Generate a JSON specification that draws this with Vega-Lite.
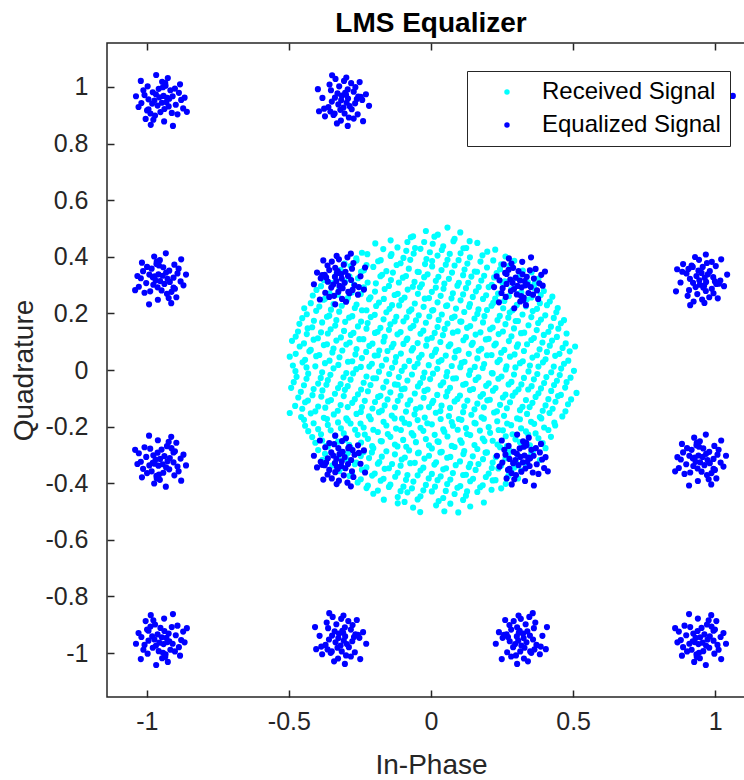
{
"$schema": "https://vega.github.io/schema/vega-lite/v6.json",
"width": 648, "height": 654,
"autosize": "none",
"padding": {"left": 107, "top": 43, "right": 0, "bottom": 83},
"background": "white",
"config": {"view": {"stroke": "#262626", "strokeWidth": 1.5}, "font": "Liberation Sans"},
"title": {"text": "LMS Equalizer", "fontSize": 28, "font": "Liberation Sans", "fontWeight": "bold", "color": "#000000", "offset": 4, "anchor": "middle"},
"datasets": {
"received": [
{"x":-0.063,"y":0.472},{"x":-0.018,"y":0.491},{"x":0.024,"y":0.478},{"x":0.058,"y":0.503},{"x":0.103,"y":0.486},
{"x":-0.196,"y":0.447},{"x":-0.118,"y":0.433},{"x":-0.083,"y":0.452},{"x":-0.037,"y":0.428},{"x":0.006,"y":0.446},{"x":0.043,"y":0.437},{"x":0.079,"y":0.455},{"x":0.124,"y":0.431},{"x":0.163,"y":0.449},
{"x":-0.263,"y":0.394},{"x":-0.224,"y":0.409},{"x":-0.177,"y":0.388},{"x":-0.142,"y":0.403},{"x":-0.097,"y":0.396},{"x":-0.061,"y":0.411},{"x":-0.016,"y":0.392},{"x":0.023,"y":0.404},{"x":0.058,"y":0.389},{"x":0.104,"y":0.412},{"x":0.137,"y":0.398},{"x":0.181,"y":0.405},{"x":0.219,"y":0.387},{"x":0.262,"y":0.401},
{"x":-0.318,"y":0.354},{"x":-0.283,"y":0.367},{"x":-0.236,"y":0.352},{"x":-0.203,"y":0.364},{"x":-0.157,"y":0.349},{"x":-0.121,"y":0.371},{"x":-0.078,"y":0.358},{"x":-0.043,"y":0.346},{"x":0.004,"y":0.366},{"x":0.037,"y":0.353},{"x":0.083,"y":0.369},{"x":0.118,"y":0.355},{"x":0.162,"y":0.347},{"x":0.197,"y":0.362},{"x":0.243,"y":0.356},{"x":0.276,"y":0.368},{"x":0.323,"y":0.351},
{"x":-0.377,"y":0.317},{"x":-0.338,"y":0.329},{"x":-0.302,"y":0.312},{"x":-0.257,"y":0.324},{"x":-0.223,"y":0.309},{"x":-0.178,"y":0.331},{"x":-0.141,"y":0.318},{"x":-0.099,"y":0.326},{"x":-0.058,"y":0.311},{"x":-0.024,"y":0.328},{"x":0.017,"y":0.315},{"x":0.063,"y":0.322},{"x":0.098,"y":0.308},{"x":0.142,"y":0.33},{"x":0.177,"y":0.316},{"x":0.222,"y":0.327},{"x":0.259,"y":0.313},{"x":0.303,"y":0.325},{"x":0.341,"y":0.31},{"x":0.378,"y":0.323},
{"x":-0.403,"y":0.283},{"x":-0.357,"y":0.271},{"x":-0.322,"y":0.288},{"x":-0.279,"y":0.274},{"x":-0.238,"y":0.291},{"x":-0.197,"y":0.277},{"x":-0.163,"y":0.286},{"x":-0.117,"y":0.269},{"x":-0.082,"y":0.284},{"x":-0.039,"y":0.292},{"x":0.003,"y":0.276},{"x":0.044,"y":0.287},{"x":0.077,"y":0.271},{"x":0.123,"y":0.289},{"x":0.158,"y":0.278},{"x":0.203,"y":0.293},{"x":0.236,"y":0.27},{"x":0.282,"y":0.285},{"x":0.318,"y":0.274},{"x":0.363,"y":0.29},{"x":0.397,"y":0.279},
{"x":-0.423,"y":0.236},{"x":-0.378,"y":0.248},{"x":-0.343,"y":0.233},{"x":-0.297,"y":0.245},{"x":-0.262,"y":0.231},{"x":-0.218,"y":0.25},{"x":-0.183,"y":0.238},{"x":-0.137,"y":0.229},{"x":-0.104,"y":0.247},{"x":-0.057,"y":0.235},{"x":-0.022,"y":0.252},{"x":0.023,"y":0.239},{"x":0.057,"y":0.228},{"x":0.104,"y":0.246},{"x":0.137,"y":0.233},{"x":0.183,"y":0.251},{"x":0.219,"y":0.237},{"x":0.258,"y":0.244},{"x":0.302,"y":0.23},{"x":0.337,"y":0.249},{"x":0.383,"y":0.236},{"x":0.418,"y":0.242},
{"x":-0.437,"y":0.197},{"x":-0.404,"y":0.209},{"x":-0.358,"y":0.192},{"x":-0.323,"y":0.206},{"x":-0.277,"y":0.19},{"x":-0.243,"y":0.211},{"x":-0.198,"y":0.195},{"x":-0.157,"y":0.204},{"x":-0.122,"y":0.188},{"x":-0.077,"y":0.207},{"x":-0.043,"y":0.193},{"x":0.004,"y":0.21},{"x":0.038,"y":0.196},{"x":0.083,"y":0.189},{"x":0.117,"y":0.205},{"x":0.163,"y":0.198},{"x":0.197,"y":0.212},{"x":0.242,"y":0.191},{"x":0.277,"y":0.203},{"x":0.322,"y":0.196},{"x":0.358,"y":0.208},{"x":0.402,"y":0.193},{"x":0.441,"y":0.204},
{"x":-0.463,"y":0.163},{"x":-0.418,"y":0.151},{"x":-0.383,"y":0.168},{"x":-0.337,"y":0.157},{"x":-0.302,"y":0.17},{"x":-0.257,"y":0.154},{"x":-0.223,"y":0.166},{"x":-0.178,"y":0.149},{"x":-0.143,"y":0.161},{"x":-0.097,"y":0.172},{"x":-0.062,"y":0.156},{"x":-0.018,"y":0.167},{"x":0.023,"y":0.152},{"x":0.058,"y":0.164},{"x":0.103,"y":0.171},{"x":0.138,"y":0.155},{"x":0.183,"y":0.168},{"x":0.217,"y":0.15},{"x":0.262,"y":0.162},{"x":0.298,"y":0.173},{"x":0.343,"y":0.158},{"x":0.377,"y":0.166},{"x":0.422,"y":0.153},{"x":0.457,"y":0.165},
{"x":-0.476,"y":0.118},{"x":-0.437,"y":0.127},{"x":-0.398,"y":0.112},{"x":-0.363,"y":0.129},{"x":-0.317,"y":0.115},{"x":-0.282,"y":0.124},{"x":-0.238,"y":0.109},{"x":-0.197,"y":0.131},{"x":-0.163,"y":0.117},{"x":-0.118,"y":0.126},{"x":-0.083,"y":0.111},{"x":-0.037,"y":0.128},{"x":0.003,"y":0.114},{"x":0.042,"y":0.123},{"x":0.077,"y":0.132},{"x":0.123,"y":0.116},{"x":0.157,"y":0.125},{"x":0.203,"y":0.11},{"x":0.238,"y":0.127},{"x":0.283,"y":0.119},{"x":0.317,"y":0.13},{"x":0.362,"y":0.113},{"x":0.397,"y":0.124},{"x":0.443,"y":0.117},{"x":0.477,"y":0.129},
{"x":-0.462,"y":0.083},{"x":-0.423,"y":0.071},{"x":-0.377,"y":0.088},{"x":-0.343,"y":0.076},{"x":-0.298,"y":0.09},{"x":-0.262,"y":0.074},{"x":-0.217,"y":0.085},{"x":-0.182,"y":0.069},{"x":-0.138,"y":0.081},{"x":-0.097,"y":0.092},{"x":-0.063,"y":0.077},{"x":-0.017,"y":0.086},{"x":0.018,"y":0.072},{"x":0.062,"y":0.084},{"x":0.097,"y":0.07},{"x":0.143,"y":0.089},{"x":0.177,"y":0.075},{"x":0.223,"y":0.087},{"x":0.258,"y":0.071},{"x":0.302,"y":0.082},{"x":0.338,"y":0.091},{"x":0.382,"y":0.073},{"x":0.418,"y":0.086},{"x":0.463,"y":0.078},{"x":0.507,"y":0.083},
{"x":-0.497,"y":0.047},{"x":-0.443,"y":0.036},{"x":-0.404,"y":0.049},{"x":-0.357,"y":0.033},{"x":-0.322,"y":0.045},{"x":-0.277,"y":0.031},{"x":-0.243,"y":0.042},{"x":-0.198,"y":0.051},{"x":-0.158,"y":0.037},{"x":-0.123,"y":0.046},{"x":-0.077,"y":0.032},{"x":-0.042,"y":0.043},{"x":0.003,"y":0.05},{"x":0.037,"y":0.035},{"x":0.083,"y":0.044},{"x":0.118,"y":0.029},{"x":0.163,"y":0.041},{"x":0.197,"y":0.052},{"x":0.242,"y":0.036},{"x":0.278,"y":0.047},{"x":0.323,"y":0.031},{"x":0.357,"y":0.044},{"x":0.403,"y":0.038},{"x":0.437,"y":0.05},{"x":0.483,"y":0.033},
{"x":-0.477,"y":-0.004},{"x":-0.438,"y":0.009},{"x":-0.383,"y":-0.008},{"x":-0.343,"y":0.006},{"x":-0.298,"y":-0.011},{"x":-0.263,"y":0.003},{"x":-0.217,"y":0.012},{"x":-0.183,"y":-0.006},{"x":-0.137,"y":0.008},{"x":-0.103,"y":-0.003},{"x":-0.058,"y":0.011},{"x":-0.023,"y":-0.009},{"x":0.022,"y":0.004},{"x":0.057,"y":-0.007},{"x":0.103,"y":0.01},{"x":0.138,"y":-0.002},{"x":0.182,"y":0.007},{"x":0.217,"y":-0.012},{"x":0.263,"y":0.002},{"x":0.297,"y":0.009},{"x":0.343,"y":-0.005},{"x":0.378,"y":0.012},{"x":0.423,"y":-0.008},{"x":0.458,"y":0.005},{"x":0.503,"y":-0.003},
{"x":-0.483,"y":-0.043},{"x":-0.438,"y":-0.031},{"x":-0.397,"y":-0.048},{"x":-0.363,"y":-0.036},{"x":-0.318,"y":-0.05},{"x":-0.283,"y":-0.034},{"x":-0.237,"y":-0.045},{"x":-0.203,"y":-0.029},{"x":-0.157,"y":-0.041},{"x":-0.117,"y":-0.052},{"x":-0.083,"y":-0.037},{"x":-0.038,"y":-0.046},{"x":-0.003,"y":-0.032},{"x":0.043,"y":-0.044},{"x":0.078,"y":-0.03},{"x":0.122,"y":-0.049},{"x":0.157,"y":-0.035},{"x":0.203,"y":-0.047},{"x":0.237,"y":-0.031},{"x":0.283,"y":-0.042},{"x":0.318,"y":-0.051},{"x":0.362,"y":-0.033},{"x":0.398,"y":-0.046},{"x":0.443,"y":-0.038},{"x":0.477,"y":-0.043},
{"x":-0.458,"y":-0.077},{"x":-0.417,"y":-0.089},{"x":-0.382,"y":-0.072},{"x":-0.338,"y":-0.084},{"x":-0.303,"y":-0.07},{"x":-0.257,"y":-0.086},{"x":-0.222,"y":-0.075},{"x":-0.178,"y":-0.091},{"x":-0.143,"y":-0.079},{"x":-0.103,"y":-0.068},{"x":-0.057,"y":-0.083},{"x":-0.023,"y":-0.074},{"x":0.022,"y":-0.088},{"x":0.058,"y":-0.076},{"x":0.102,"y":-0.09},{"x":0.137,"y":-0.071},{"x":0.183,"y":-0.085},{"x":0.218,"y":-0.073},{"x":0.262,"y":-0.087},{"x":0.297,"y":-0.079},{"x":0.342,"y":-0.069},{"x":0.378,"y":-0.082},{"x":0.423,"y":-0.074},{"x":0.457,"y":-0.088},{"x":0.512,"y":-0.081},
{"x":-0.478,"y":-0.127},{"x":-0.443,"y":-0.114},{"x":-0.397,"y":-0.129},{"x":-0.362,"y":-0.111},{"x":-0.318,"y":-0.124},{"x":-0.277,"y":-0.116},{"x":-0.243,"y":-0.131},{"x":-0.197,"y":-0.113},{"x":-0.163,"y":-0.125},{"x":-0.117,"y":-0.109},{"x":-0.082,"y":-0.122},{"x":-0.037,"y":-0.132},{"x":0.004,"y":-0.117},{"x":0.037,"y":-0.126},{"x":0.083,"y":-0.111},{"x":0.117,"y":-0.128},{"x":0.163,"y":-0.119},{"x":0.198,"y":-0.107},{"x":0.243,"y":-0.123},{"x":0.278,"y":-0.114},{"x":0.322,"y":-0.13},{"x":0.357,"y":-0.116},{"x":0.403,"y":-0.125},{"x":0.438,"y":-0.112},{"x":0.482,"y":-0.121},
{"x":-0.497,"y":-0.152},{"x":-0.457,"y":-0.166},{"x":-0.423,"y":-0.153},{"x":-0.377,"y":-0.169},{"x":-0.342,"y":-0.157},{"x":-0.298,"y":-0.171},{"x":-0.262,"y":-0.155},{"x":-0.218,"y":-0.164},{"x":-0.183,"y":-0.149},{"x":-0.138,"y":-0.161},{"x":-0.102,"y":-0.172},{"x":-0.058,"y":-0.157},{"x":-0.022,"y":-0.168},{"x":0.017,"y":-0.151},{"x":0.063,"y":-0.163},{"x":0.098,"y":-0.173},{"x":0.142,"y":-0.158},{"x":0.178,"y":-0.167},{"x":0.222,"y":-0.15},{"x":0.257,"y":-0.162},{"x":0.303,"y":-0.171},{"x":0.338,"y":-0.155},{"x":0.383,"y":-0.166},{"x":0.417,"y":-0.152},{"x":0.462,"y":-0.164},
{"x":-0.443,"y":-0.197},{"x":-0.397,"y":-0.209},{"x":-0.363,"y":-0.194},{"x":-0.317,"y":-0.206},{"x":-0.283,"y":-0.189},{"x":-0.237,"y":-0.203},{"x":-0.203,"y":-0.211},{"x":-0.157,"y":-0.196},{"x":-0.123,"y":-0.207},{"x":-0.077,"y":-0.191},{"x":-0.037,"y":-0.204},{"x":0.003,"y":-0.192},{"x":0.043,"y":-0.21},{"x":0.077,"y":-0.197},{"x":0.123,"y":-0.205},{"x":0.157,"y":-0.189},{"x":0.203,"y":-0.202},{"x":0.238,"y":-0.212},{"x":0.282,"y":-0.195},{"x":0.317,"y":-0.206},{"x":0.363,"y":-0.19},{"x":0.398,"y":-0.203},{"x":0.437,"y":-0.196},
{"x":-0.418,"y":-0.237},{"x":-0.383,"y":-0.249},{"x":-0.337,"y":-0.232},{"x":-0.303,"y":-0.246},{"x":-0.258,"y":-0.229},{"x":-0.222,"y":-0.243},{"x":-0.177,"y":-0.251},{"x":-0.143,"y":-0.236},{"x":-0.098,"y":-0.247},{"x":-0.062,"y":-0.231},{"x":-0.018,"y":-0.244},{"x":0.023,"y":-0.252},{"x":0.058,"y":-0.235},{"x":0.103,"y":-0.248},{"x":0.138,"y":-0.23},{"x":0.182,"y":-0.242},{"x":0.217,"y":-0.25},{"x":0.263,"y":-0.234},{"x":0.297,"y":-0.245},{"x":0.342,"y":-0.228},{"x":0.378,"y":-0.241},{"x":0.422,"y":-0.236},
{"x":-0.397,"y":-0.283},{"x":-0.363,"y":-0.271},{"x":-0.318,"y":-0.288},{"x":-0.283,"y":-0.274},{"x":-0.237,"y":-0.29},{"x":-0.203,"y":-0.276},{"x":-0.157,"y":-0.287},{"x":-0.118,"y":-0.27},{"x":-0.077,"y":-0.284},{"x":-0.043,"y":-0.292},{"x":0.003,"y":-0.277},{"x":0.038,"y":-0.289},{"x":0.083,"y":-0.272},{"x":0.117,"y":-0.286},{"x":0.163,"y":-0.279},{"x":0.197,"y":-0.291},{"x":0.243,"y":-0.273},{"x":0.277,"y":-0.285},{"x":0.323,"y":-0.27},{"x":0.358,"y":-0.288},{"x":0.403,"y":-0.276},
{"x":-0.382,"y":-0.317},{"x":-0.338,"y":-0.329},{"x":-0.297,"y":-0.314},{"x":-0.263,"y":-0.327},{"x":-0.218,"y":-0.311},{"x":-0.182,"y":-0.325},{"x":-0.137,"y":-0.332},{"x":-0.103,"y":-0.316},{"x":-0.057,"y":-0.328},{"x":-0.023,"y":-0.313},{"x":0.018,"y":-0.326},{"x":0.057,"y":-0.31},{"x":0.102,"y":-0.323},{"x":0.138,"y":-0.331},{"x":0.183,"y":-0.315},{"x":0.217,"y":-0.327},{"x":0.262,"y":-0.312},{"x":0.298,"y":-0.324},{"x":0.337,"y":-0.33},{"x":0.383,"y":-0.318},
{"x":-0.323,"y":-0.357},{"x":-0.277,"y":-0.369},{"x":-0.243,"y":-0.352},{"x":-0.198,"y":-0.366},{"x":-0.163,"y":-0.349},{"x":-0.117,"y":-0.363},{"x":-0.083,"y":-0.371},{"x":-0.037,"y":-0.355},{"x":0.003,"y":-0.367},{"x":0.043,"y":-0.351},{"x":0.077,"y":-0.364},{"x":0.123,"y":-0.37},{"x":0.157,"y":-0.353},{"x":0.203,"y":-0.366},{"x":0.237,"y":-0.348},{"x":0.283,"y":-0.361},{"x":0.317,"y":-0.355},
{"x":-0.258,"y":-0.397},{"x":-0.222,"y":-0.408},{"x":-0.177,"y":-0.391},{"x":-0.143,"y":-0.405},{"x":-0.097,"y":-0.412},{"x":-0.062,"y":-0.394},{"x":-0.018,"y":-0.406},{"x":0.023,"y":-0.389},{"x":0.057,"y":-0.403},{"x":0.103,"y":-0.41},{"x":0.138,"y":-0.393},{"x":0.182,"y":-0.407},{"x":0.217,"y":-0.39},{"x":0.263,"y":-0.402},
{"x":-0.203,"y":-0.437},{"x":-0.117,"y":-0.449},{"x":-0.083,"y":-0.432},{"x":-0.037,"y":-0.446},{"x":0.003,"y":-0.429},{"x":0.043,"y":-0.452},{"x":0.083,"y":-0.438},{"x":0.123,"y":-0.444},{"x":0.163,"y":-0.431},
{"x":-0.117,"y":-0.471},{"x":-0.063,"y":-0.486},{"x":-0.038,"y":-0.502},{"x":0.018,"y":-0.478},{"x":0.047,"y":-0.499},{"x":0.096,"y":-0.503},{"x":0.138,"y":-0.482},
{"x":-0.142,"y":0.458},{"x":-0.071,"y":0.469},{"x":-0.024,"y":0.452},{"x":0.012,"y":0.471},{"x":0.083,"y":0.463},{"x":0.136,"y":0.455},
{"x":-0.243,"y":0.414},{"x":-0.168,"y":0.427},{"x":-0.139,"y":0.409},{"x":-0.087,"y":0.421},{"x":-0.056,"y":0.431},{"x":-0.004,"y":0.416},{"x":0.038,"y":0.424},{"x":0.066,"y":0.41},{"x":0.114,"y":0.43},{"x":0.198,"y":0.418},{"x":0.226,"y":0.425},
{"x":-0.304,"y":0.376},{"x":-0.262,"y":0.387},{"x":-0.227,"y":0.371},{"x":-0.186,"y":0.384},{"x":-0.107,"y":0.377},{"x":-0.073,"y":0.389},{"x":-0.021,"y":0.374},{"x":0.004,"y":0.385},{"x":0.052,"y":0.372},{"x":0.097,"y":0.388},{"x":0.128,"y":0.376},{"x":0.174,"y":0.383},{"x":0.247,"y":0.373},{"x":0.293,"y":0.386},
{"x":-0.332,"y":0.343},{"x":-0.287,"y":0.331},{"x":-0.246,"y":0.347},{"x":-0.172,"y":0.336},{"x":-0.134,"y":0.344},{"x":-0.088,"y":0.332},{"x":-0.047,"y":0.347},{"x":-0.012,"y":0.338},{"x":0.026,"y":0.329},{"x":0.074,"y":0.344},{"x":0.113,"y":0.335},{"x":0.154,"y":0.348},{"x":0.187,"y":0.333},{"x":0.231,"y":0.342},{"x":0.314,"y":0.337},{"x":0.354,"y":0.345},
{"x":-0.387,"y":0.296},{"x":-0.348,"y":0.307},{"x":-0.271,"y":0.302},{"x":-0.236,"y":0.291},{"x":-0.194,"y":0.306},{"x":-0.148,"y":0.297},{"x":-0.113,"y":0.309},{"x":-0.064,"y":0.294},{"x":-0.032,"y":0.303},{"x":0.017,"y":0.291},{"x":0.047,"y":0.305},{"x":0.093,"y":0.298},{"x":0.131,"y":0.308},{"x":0.168,"y":0.293},{"x":0.214,"y":0.301},{"x":0.251,"y":0.309},{"x":0.296,"y":0.295},{"x":0.364,"y":0.304},
{"x":-0.416,"y":0.263},{"x":-0.373,"y":0.252},{"x":-0.328,"y":0.266},{"x":-0.292,"y":0.255},{"x":-0.247,"y":0.268},{"x":-0.213,"y":0.257},{"x":-0.166,"y":0.251},{"x":-0.128,"y":0.265},{"x":-0.093,"y":0.256},{"x":-0.046,"y":0.269},{"x":-0.007,"y":0.254},{"x":0.034,"y":0.262},{"x":0.072,"y":0.253},{"x":0.113,"y":0.267},{"x":0.147,"y":0.258},{"x":0.194,"y":0.264},{"x":0.226,"y":0.252},{"x":0.274,"y":0.261},{"x":0.308,"y":0.269},{"x":0.353,"y":0.256},{"x":0.386,"y":0.265},{"x":0.427,"y":0.259},
{"x":-0.446,"y":0.218},{"x":-0.393,"y":0.224},{"x":-0.352,"y":0.213},{"x":-0.314,"y":0.227},{"x":-0.268,"y":0.219},{"x":-0.227,"y":0.211},{"x":-0.193,"y":0.226},{"x":-0.146,"y":0.216},{"x":-0.112,"y":0.228},{"x":-0.069,"y":0.214},{"x":-0.026,"y":0.223},{"x":0.008,"y":0.212},{"x":0.053,"y":0.226},{"x":0.088,"y":0.217},{"x":0.134,"y":0.223},{"x":0.167,"y":0.214},{"x":0.213,"y":0.227},{"x":0.254,"y":0.218},{"x":0.287,"y":0.211},{"x":0.334,"y":0.225},{"x":0.373,"y":0.216},{"x":0.408,"y":0.229},{"x":0.446,"y":0.219},
{"x":-0.453,"y":0.183},{"x":-0.412,"y":0.174},{"x":-0.366,"y":0.188},{"x":-0.333,"y":0.176},{"x":-0.288,"y":0.185},{"x":-0.246,"y":0.171},{"x":-0.212,"y":0.187},{"x":-0.167,"y":0.179},{"x":-0.128,"y":0.172},{"x":-0.086,"y":0.186},{"x":-0.053,"y":0.175},{"x":-0.006,"y":0.189},{"x":0.027,"y":0.177},{"x":0.074,"y":0.184},{"x":0.107,"y":0.171},{"x":0.153,"y":0.182},{"x":0.188,"y":0.19},{"x":0.234,"y":0.176},{"x":0.272,"y":0.185},{"x":0.306,"y":0.173},{"x":0.353,"y":0.187},{"x":0.387,"y":0.178},{"x":0.432,"y":0.184},{"x":0.468,"y":0.176},
{"x":-0.468,"y":0.136},{"x":-0.434,"y":0.147},{"x":-0.387,"y":0.133},{"x":-0.353,"y":0.144},{"x":-0.306,"y":0.138},{"x":-0.273,"y":0.131},{"x":-0.227,"y":0.146},{"x":-0.188,"y":0.135},{"x":-0.148,"y":0.142},{"x":-0.107,"y":0.134},{"x":-0.072,"y":0.148},{"x":-0.027,"y":0.139},{"x":0.013,"y":0.131},{"x":0.048,"y":0.145},{"x":0.094,"y":0.137},{"x":0.127,"y":0.149},{"x":0.174,"y":0.133},{"x":0.208,"y":0.144},{"x":0.253,"y":0.136},{"x":0.292,"y":0.147},{"x":0.328,"y":0.132},{"x":0.372,"y":0.141},{"x":0.413,"y":0.135},{"x":0.448,"y":0.146},
{"x":-0.489,"y":0.103},{"x":-0.447,"y":0.094},{"x":-0.413,"y":0.107},{"x":-0.366,"y":0.091},{"x":-0.333,"y":0.104},{"x":-0.286,"y":0.097},{"x":-0.252,"y":0.109},{"x":-0.206,"y":0.093},{"x":-0.167,"y":0.101},{"x":-0.132,"y":0.092},{"x":-0.086,"y":0.106},{"x":-0.047,"y":0.095},{"x":-0.013,"y":0.108},{"x":0.033,"y":0.099},{"x":0.068,"y":0.091},{"x":0.114,"y":0.105},{"x":0.147,"y":0.096},{"x":0.193,"y":0.108},{"x":0.228,"y":0.093},{"x":0.274,"y":0.102},{"x":0.306,"y":0.091},{"x":0.353,"y":0.106},{"x":0.392,"y":0.097},{"x":0.426,"y":0.104},{"x":0.474,"y":0.094},
{"x":-0.476,"y":0.057},{"x":-0.428,"y":0.066},{"x":-0.393,"y":0.053},{"x":-0.347,"y":0.062},{"x":-0.312,"y":0.069},{"x":-0.266,"y":0.055},{"x":-0.228,"y":0.064},{"x":-0.187,"y":0.052},{"x":-0.153,"y":0.067},{"x":-0.106,"y":0.058},{"x":-0.068,"y":0.069},{"x":-0.033,"y":0.054},{"x":0.014,"y":0.063},{"x":0.052,"y":0.051},{"x":0.087,"y":0.066},{"x":0.133,"y":0.057},{"x":0.168,"y":0.068},{"x":0.213,"y":0.053},{"x":0.247,"y":0.061},{"x":0.294,"y":0.055},{"x":0.327,"y":0.067},{"x":0.373,"y":0.052},{"x":0.408,"y":0.064},{"x":0.452,"y":0.057},{"x":0.488,"y":0.066},
{"x":-0.486,"y":0.016},{"x":-0.452,"y":0.027},{"x":-0.407,"y":0.013},{"x":-0.373,"y":0.024},{"x":-0.326,"y":0.018},{"x":-0.292,"y":0.029},{"x":-0.247,"y":0.011},{"x":-0.208,"y":0.022},{"x":-0.173,"y":0.015},{"x":-0.126,"y":0.028},{"x":-0.093,"y":0.012},{"x":-0.047,"y":0.023},{"x":-0.008,"y":0.017},{"x":0.027,"y":0.029},{"x":0.073,"y":0.014},{"x":0.108,"y":0.025},{"x":0.154,"y":0.011},{"x":0.187,"y":0.021},{"x":0.234,"y":0.028},{"x":0.266,"y":0.013},{"x":0.313,"y":0.024},{"x":0.348,"y":0.016},{"x":0.394,"y":0.027},{"x":0.432,"y":0.012},{"x":0.468,"y":0.022},
{"x":-0.473,"y":-0.024},{"x":-0.432,"y":-0.013},{"x":-0.388,"y":-0.028},{"x":-0.354,"y":-0.017},{"x":-0.308,"y":-0.026},{"x":-0.274,"y":-0.012},{"x":-0.227,"y":-0.023},{"x":-0.193,"y":-0.029},{"x":-0.147,"y":-0.014},{"x":-0.113,"y":-0.025},{"x":-0.067,"y":-0.016},{"x":-0.028,"y":-0.027},{"x":0.007,"y":-0.013},{"x":0.054,"y":-0.022},{"x":0.088,"y":-0.029},{"x":0.134,"y":-0.017},{"x":0.167,"y":-0.026},{"x":0.214,"y":-0.011},{"x":0.248,"y":-0.023},{"x":0.292,"y":-0.016},{"x":0.327,"y":-0.028},{"x":0.374,"y":-0.014},{"x":0.406,"y":-0.025},{"x":0.453,"y":-0.018},{"x":0.491,"y":-0.027},
{"x":-0.492,"y":-0.063},{"x":-0.447,"y":-0.054},{"x":-0.413,"y":-0.067},{"x":-0.368,"y":-0.052},{"x":-0.327,"y":-0.064},{"x":-0.293,"y":-0.057},{"x":-0.246,"y":-0.069},{"x":-0.213,"y":-0.053},{"x":-0.168,"y":-0.062},{"x":-0.127,"y":-0.051},{"x":-0.093,"y":-0.066},{"x":-0.046,"y":-0.058},{"x":-0.012,"y":-0.069},{"x":0.034,"y":-0.054},{"x":0.067,"y":-0.063},{"x":0.113,"y":-0.052},{"x":0.148,"y":-0.067},{"x":0.194,"y":-0.056},{"x":0.227,"y":-0.064},{"x":0.273,"y":-0.051},{"x":0.308,"y":-0.068},{"x":0.354,"y":-0.057},{"x":0.387,"y":-0.065},{"x":0.433,"y":-0.053},{"x":0.472,"y":-0.062},
{"x":-0.467,"y":-0.097},{"x":-0.433,"y":-0.108},{"x":-0.386,"y":-0.094},{"x":-0.352,"y":-0.106},{"x":-0.307,"y":-0.092},{"x":-0.268,"y":-0.103},{"x":-0.233,"y":-0.109},{"x":-0.186,"y":-0.095},{"x":-0.153,"y":-0.104},{"x":-0.107,"y":-0.091},{"x":-0.073,"y":-0.107},{"x":-0.026,"y":-0.098},{"x":0.008,"y":-0.109},{"x":0.053,"y":-0.093},{"x":0.093,"y":-0.102},{"x":0.128,"y":-0.108},{"x":0.174,"y":-0.094},{"x":0.207,"y":-0.105},{"x":0.253,"y":-0.097},{"x":0.287,"y":-0.091},{"x":0.334,"y":-0.106},{"x":0.368,"y":-0.095},{"x":0.413,"y":-0.103},{"x":0.447,"y":-0.092},{"x":0.493,"y":-0.104},
{"x":-0.453,"y":-0.137},{"x":-0.407,"y":-0.146},{"x":-0.372,"y":-0.133},{"x":-0.328,"y":-0.144},{"x":-0.293,"y":-0.131},{"x":-0.247,"y":-0.148},{"x":-0.206,"y":-0.136},{"x":-0.173,"y":-0.143},{"x":-0.127,"y":-0.132},{"x":-0.088,"y":-0.147},{"x":-0.053,"y":-0.138},{"x":-0.007,"y":-0.131},{"x":0.033,"y":-0.145},{"x":0.067,"y":-0.134},{"x":0.113,"y":-0.149},{"x":0.153,"y":-0.139},{"x":0.186,"y":-0.132},{"x":0.232,"y":-0.146},{"x":0.267,"y":-0.135},{"x":0.313,"y":-0.142},{"x":0.347,"y":-0.131},{"x":0.393,"y":-0.144},{"x":0.428,"y":-0.137},{"x":0.473,"y":-0.146},
{"x":-0.447,"y":-0.176},{"x":-0.413,"y":-0.188},{"x":-0.366,"y":-0.173},{"x":-0.327,"y":-0.185},{"x":-0.293,"y":-0.178},{"x":-0.248,"y":-0.189},{"x":-0.212,"y":-0.174},{"x":-0.167,"y":-0.183},{"x":-0.128,"y":-0.171},{"x":-0.093,"y":-0.186},{"x":-0.047,"y":-0.177},{"x":-0.013,"y":-0.188},{"x":0.034,"y":-0.173},{"x":0.073,"y":-0.184},{"x":0.107,"y":-0.176},{"x":0.153,"y":-0.187},{"x":0.186,"y":-0.172},{"x":0.233,"y":-0.181},{"x":0.268,"y":-0.189},{"x":0.313,"y":-0.174},{"x":0.352,"y":-0.183},{"x":0.388,"y":-0.171},{"x":0.434,"y":-0.186},
{"x":-0.432,"y":-0.216},{"x":-0.387,"y":-0.227},{"x":-0.353,"y":-0.213},{"x":-0.307,"y":-0.224},{"x":-0.267,"y":-0.211},{"x":-0.233,"y":-0.228},{"x":-0.187,"y":-0.219},{"x":-0.152,"y":-0.226},{"x":-0.106,"y":-0.212},{"x":-0.068,"y":-0.223},{"x":-0.027,"y":-0.215},{"x":0.013,"y":-0.229},{"x":0.047,"y":-0.218},{"x":0.094,"y":-0.211},{"x":0.127,"y":-0.226},{"x":0.172,"y":-0.214},{"x":0.208,"y":-0.222},{"x":0.253,"y":-0.213},{"x":0.287,"y":-0.227},{"x":0.334,"y":-0.217},{"x":0.368,"y":-0.224},{"x":0.413,"y":-0.212},
{"x":-0.407,"y":-0.257},{"x":-0.368,"y":-0.268},{"x":-0.327,"y":-0.253},{"x":-0.288,"y":-0.264},{"x":-0.246,"y":-0.256},{"x":-0.207,"y":-0.269},{"x":-0.173,"y":-0.252},{"x":-0.127,"y":-0.263},{"x":-0.087,"y":-0.271},{"x":-0.053,"y":-0.255},{"x":-0.007,"y":-0.266},{"x":0.027,"y":-0.254},{"x":0.073,"y":-0.268},{"x":0.108,"y":-0.257},{"x":0.153,"y":-0.265},{"x":0.188,"y":-0.251},{"x":0.234,"y":-0.263},{"x":0.267,"y":-0.269},{"x":0.313,"y":-0.255},{"x":0.348,"y":-0.266},{"x":0.393,"y":-0.258},
{"x":-0.373,"y":-0.296},{"x":-0.327,"y":-0.308},{"x":-0.292,"y":-0.293},{"x":-0.247,"y":-0.304},{"x":-0.208,"y":-0.291},{"x":-0.173,"y":-0.306},{"x":-0.127,"y":-0.298},{"x":-0.092,"y":-0.309},{"x":-0.046,"y":-0.294},{"x":-0.007,"y":-0.303},{"x":0.033,"y":-0.291},{"x":0.068,"y":-0.307},{"x":0.114,"y":-0.297},{"x":0.147,"y":-0.305},{"x":0.192,"y":-0.292},{"x":0.228,"y":-0.308},{"x":0.273,"y":-0.296},{"x":0.307,"y":-0.304},{"x":0.353,"y":-0.293},
{"x":-0.347,"y":-0.337},{"x":-0.306,"y":-0.346},{"x":-0.268,"y":-0.333},{"x":-0.227,"y":-0.344},{"x":-0.187,"y":-0.331},{"x":-0.148,"y":-0.347},{"x":-0.107,"y":-0.338},{"x":-0.073,"y":-0.329},{"x":-0.027,"y":-0.345},{"x":0.012,"y":-0.334},{"x":0.053,"y":-0.347},{"x":0.087,"y":-0.336},{"x":0.133,"y":-0.343},{"x":0.167,"y":-0.332},{"x":0.214,"y":-0.346},{"x":0.247,"y":-0.337},{"x":0.293,"y":-0.344},{"x":0.333,"y":-0.331},
{"x":-0.287,"y":-0.374},{"x":-0.247,"y":-0.386},{"x":-0.207,"y":-0.373},{"x":-0.167,"y":-0.384},{"x":-0.126,"y":-0.377},{"x":-0.088,"y":-0.388},{"x":-0.047,"y":-0.372},{"x":-0.008,"y":-0.383},{"x":0.034,"y":-0.376},{"x":0.068,"y":-0.387},{"x":0.113,"y":-0.371},{"x":0.148,"y":-0.384},{"x":0.193,"y":-0.378},{"x":0.227,"y":-0.389},{"x":0.272,"y":-0.374},{"x":0.306,"y":-0.383},
{"x":-0.227,"y":-0.417},{"x":-0.187,"y":-0.426},{"x":-0.148,"y":-0.413},{"x":-0.107,"y":-0.428},{"x":-0.067,"y":-0.418},{"x":-0.027,"y":-0.425},{"x":0.014,"y":-0.412},{"x":0.052,"y":-0.427},{"x":0.093,"y":-0.416},{"x":0.127,"y":-0.429},{"x":0.173,"y":-0.414},{"x":0.213,"y":-0.423},{"x":0.247,"y":-0.418},
{"x":-0.166,"y":-0.458},{"x":-0.093,"y":-0.466},{"x":-0.047,"y":-0.457},{"x":0.027,"y":-0.463},{"x":0.068,"y":-0.472},{"x":0.113,"y":-0.459},{"x":0.186,"y":-0.468}
],
"equalized": [
{"x":-0.947,"y":0.944},{"x":-0.928,"y":0.961},{"x":-0.968,"y":0.974},{"x":-0.981,"y":0.941},{"x":-0.938,"y":0.922},{"x":-0.909,"y":0.967},{"x":-0.958,"y":0.993},{"x":-0.923,"y":0.931},{"x":-0.994,"y":0.956},{"x":-0.952,"y":0.911},{"x":-0.898,"y":0.937},{"x":-0.999,"y":0.917},{"x":-0.934,"y":1.004},{"x":-0.971,"y":0.899},{"x":-0.887,"y":0.979},{"x":-1.008,"y":0.971},{"x":-0.941,"y":0.968},{"x":-0.962,"y":0.934},{"x":-0.917,"y":0.988},{"x":-0.979,"y":0.981},{"x":-0.912,"y":0.908},{"x":-0.987,"y":0.906},{"x":-0.879,"y":0.954},{"x":-1.019,"y":0.943},{"x":-0.946,"y":1.018},{"x":-0.939,"y":0.878},{"x":-0.931,"y":0.946},{"x":-0.973,"y":0.952},{"x":-0.921,"y":0.958},{"x":-0.956,"y":0.963},{"x":-0.901,"y":0.994},{"x":-0.997,"y":1.002},{"x":-0.872,"y":0.924},{"x":-0.977,"y":0.884},{"x":-0.943,"y":0.999},
{"x":-0.892,"y":0.903},{"x":-1.012,"y":0.988},{"x":-0.867,"y":0.962},{"x":-1.029,"y":0.929},{"x":-0.926,"y":1.031},{"x":-0.986,"y":0.866},{"x":-0.883,"y":1.009},{"x":-1.004,"y":0.887},{"x":-0.859,"y":0.912},{"x":-1.038,"y":0.967},{"x":-0.967,"y":1.042},{"x":-0.908,"y":0.862},{"x":-1.021,"y":1.021},{"x":-0.935,"y":1.013},{"x":-0.994,"y":0.921},
{"x":-0.316,"y":0.953},{"x":-0.299,"y":0.972},{"x":-0.286,"y":0.932},{"x":-0.319,"y":0.919},{"x":-0.338,"y":0.962},{"x":-0.293,"y":0.991},{"x":-0.267,"y":0.942},{"x":-0.329,"y":0.977},{"x":-0.304,"y":0.906},{"x":-0.349,"y":0.948},{"x":-0.323,"y":1.002},{"x":-0.343,"y":0.901},{"x":-0.256,"y":0.966},{"x":-0.361,"y":0.929},{"x":-0.281,"y":1.013},{"x":-0.289,"y":0.892},{"x":-0.292,"y":0.959},{"x":-0.326,"y":0.938},{"x":-0.272,"y":0.983},{"x":-0.279,"y":0.921},{"x":-0.352,"y":0.988},{"x":-0.354,"y":0.913},{"x":-0.306,"y":1.021},{"x":-0.317,"y":0.881},{"x":-0.242,"y":0.954},{"x":-0.382,"y":0.961},{"x":-0.314,"y":0.969},{"x":-0.308,"y":0.927},{"x":-0.302,"y":0.979},{"x":-0.297,"y":0.944},{"x":-0.266,"y":0.999},{"x":-0.258,"y":0.903},{"x":-0.336,"y":1.028},{"x":-0.376,"y":0.923},{"x":-0.261,"y":0.957},
{"x":-0.357,"y":1.008},{"x":-0.272,"y":0.888},{"x":-0.298,"y":1.033},{"x":-0.331,"y":0.871},{"x":-0.229,"y":0.974},{"x":-0.394,"y":0.914},{"x":-0.251,"y":1.017},{"x":-0.373,"y":0.896},{"x":-0.348,"y":1.041},{"x":-0.293,"y":0.862},{"x":-0.218,"y":0.933},{"x":-0.398,"y":0.992},{"x":-0.239,"y":0.879},{"x":-0.247,"y":0.965},{"x":-0.339,"y":0.906},
{"x":-0.953,"y":0.314},{"x":-0.972,"y":0.331},{"x":-0.932,"y":0.344},{"x":-0.919,"y":0.311},{"x":-0.962,"y":0.292},{"x":-0.991,"y":0.337},{"x":-0.942,"y":0.363},{"x":-0.977,"y":0.301},{"x":-0.906,"y":0.326},{"x":-0.948,"y":0.281},{"x":-1.002,"y":0.307},{"x":-0.901,"y":0.287},{"x":-0.966,"y":0.374},{"x":-0.929,"y":0.269},{"x":-1.013,"y":0.349},{"x":-0.892,"y":0.341},{"x":-0.959,"y":0.338},{"x":-0.938,"y":0.304},{"x":-0.983,"y":0.358},{"x":-0.921,"y":0.351},{"x":-0.988,"y":0.278},{"x":-0.913,"y":0.276},{"x":-1.021,"y":0.324},{"x":-0.881,"y":0.313},{"x":-0.954,"y":0.388},{"x":-0.961,"y":0.248},{"x":-0.969,"y":0.316},{"x":-0.927,"y":0.322},{"x":-0.979,"y":0.328},{"x":-0.944,"y":0.333},{"x":-0.999,"y":0.364},{"x":-0.903,"y":0.372},{"x":-1.028,"y":0.294},{"x":-0.923,"y":0.254},{"x":-0.957,"y":0.369},
{"x":-1.008,"y":0.273},{"x":-0.888,"y":0.358},{"x":-1.033,"y":0.332},{"x":-0.871,"y":0.299},{"x":-0.974,"y":0.401},{"x":-0.914,"y":0.236},{"x":-1.017,"y":0.379},{"x":-0.896,"y":0.257},{"x":-1.041,"y":0.282},{"x":-0.862,"y":0.337},{"x":-0.933,"y":0.412},{"x":-0.992,"y":0.232},{"x":-0.879,"y":0.391},{"x":-0.965,"y":0.383},{"x":-0.906,"y":0.291},
{"x":-0.314,"y":0.323},{"x":-0.331,"y":0.342},{"x":-0.344,"y":0.302},{"x":-0.311,"y":0.289},{"x":-0.292,"y":0.332},{"x":-0.337,"y":0.361},{"x":-0.363,"y":0.312},{"x":-0.301,"y":0.347},{"x":-0.326,"y":0.276},{"x":-0.281,"y":0.318},{"x":-0.307,"y":0.372},{"x":-0.287,"y":0.271},{"x":-0.374,"y":0.336},{"x":-0.269,"y":0.299},{"x":-0.349,"y":0.383},{"x":-0.341,"y":0.262},{"x":-0.338,"y":0.329},{"x":-0.304,"y":0.308},{"x":-0.358,"y":0.353},{"x":-0.351,"y":0.291},{"x":-0.278,"y":0.358},{"x":-0.276,"y":0.283},{"x":-0.324,"y":0.391},{"x":-0.313,"y":0.251},{"x":-0.388,"y":0.324},{"x":-0.248,"y":0.331},{"x":-0.316,"y":0.339},{"x":-0.322,"y":0.297},{"x":-0.328,"y":0.349},{"x":-0.333,"y":0.314},{"x":-0.364,"y":0.369},{"x":-0.372,"y":0.273},{"x":-0.294,"y":0.398},{"x":-0.254,"y":0.293},{"x":-0.369,"y":0.327},
{"x":-0.273,"y":0.378},{"x":-0.358,"y":0.258},{"x":-0.332,"y":0.403},{"x":-0.299,"y":0.241},{"x":-0.401,"y":0.344},{"x":-0.236,"y":0.284},{"x":-0.379,"y":0.387},{"x":-0.257,"y":0.266},{"x":-0.282,"y":0.411},{"x":-0.337,"y":0.232},{"x":-0.412,"y":0.303},{"x":-0.232,"y":0.362},{"x":-0.391,"y":0.249},{"x":-0.383,"y":0.335},{"x":-0.291,"y":0.276},
{"x":0.313,"y":0.316},{"x":0.332,"y":0.299},{"x":0.292,"y":0.286},{"x":0.279,"y":0.319},{"x":0.322,"y":0.338},{"x":0.351,"y":0.293},{"x":0.302,"y":0.267},{"x":0.337,"y":0.329},{"x":0.266,"y":0.304},{"x":0.308,"y":0.349},{"x":0.362,"y":0.323},{"x":0.261,"y":0.343},{"x":0.326,"y":0.256},{"x":0.289,"y":0.361},{"x":0.373,"y":0.281},{"x":0.252,"y":0.289},{"x":0.319,"y":0.292},{"x":0.298,"y":0.326},{"x":0.343,"y":0.272},{"x":0.281,"y":0.279},{"x":0.348,"y":0.352},{"x":0.273,"y":0.354},{"x":0.381,"y":0.306},{"x":0.241,"y":0.317},{"x":0.314,"y":0.242},{"x":0.321,"y":0.382},{"x":0.329,"y":0.314},{"x":0.287,"y":0.308},{"x":0.339,"y":0.302},{"x":0.304,"y":0.297},{"x":0.359,"y":0.266},{"x":0.263,"y":0.258},{"x":0.388,"y":0.336},{"x":0.283,"y":0.376},{"x":0.317,"y":0.261},
{"x":0.368,"y":0.357},{"x":0.248,"y":0.272},{"x":0.393,"y":0.298},{"x":0.231,"y":0.331},{"x":0.334,"y":0.229},{"x":0.274,"y":0.394},{"x":0.377,"y":0.251},{"x":0.256,"y":0.373},{"x":0.401,"y":0.348},{"x":0.222,"y":0.293},{"x":0.293,"y":0.218},{"x":0.352,"y":0.398},{"x":0.239,"y":0.239},{"x":0.325,"y":0.247},{"x":0.266,"y":0.339},
{"x":0.944,"y":0.317},{"x":0.961,"y":0.298},{"x":0.974,"y":0.338},{"x":0.941,"y":0.351},{"x":0.922,"y":0.308},{"x":0.967,"y":0.279},{"x":0.993,"y":0.328},{"x":0.931,"y":0.293},{"x":0.956,"y":0.364},{"x":0.911,"y":0.322},{"x":0.937,"y":0.268},{"x":0.917,"y":0.369},{"x":1.004,"y":0.304},{"x":0.899,"y":0.341},{"x":0.979,"y":0.257},{"x":0.971,"y":0.378},{"x":0.968,"y":0.311},{"x":0.934,"y":0.332},{"x":0.988,"y":0.287},{"x":0.981,"y":0.349},{"x":0.908,"y":0.282},{"x":0.906,"y":0.357},{"x":0.954,"y":0.249},{"x":0.943,"y":0.389},{"x":1.018,"y":0.316},{"x":0.878,"y":0.309},{"x":0.946,"y":0.301},{"x":0.952,"y":0.343},{"x":0.958,"y":0.291},{"x":0.963,"y":0.326},{"x":0.994,"y":0.271},{"x":1.002,"y":0.367},{"x":0.924,"y":0.242},{"x":0.884,"y":0.347},{"x":0.999,"y":0.313},
{"x":0.903,"y":0.262},{"x":0.988,"y":0.382},{"x":0.962,"y":0.237},{"x":0.929,"y":0.399},{"x":1.031,"y":0.296},{"x":0.866,"y":0.356},{"x":1.009,"y":0.253},{"x":0.887,"y":0.374},{"x":0.912,"y":0.229},{"x":0.967,"y":0.408},{"x":1.042,"y":0.337},{"x":0.862,"y":0.278},{"x":1.021,"y":0.391},{"x":1.013,"y":0.305},{"x":0.921,"y":0.364},
{"x":-0.953,"y":-0.314},{"x":-0.972,"y":-0.331},{"x":-0.932,"y":-0.344},{"x":-0.919,"y":-0.311},{"x":-0.962,"y":-0.292},{"x":-0.991,"y":-0.337},{"x":-0.942,"y":-0.363},{"x":-0.977,"y":-0.301},{"x":-0.906,"y":-0.326},{"x":-0.948,"y":-0.281},{"x":-1.002,"y":-0.307},{"x":-0.901,"y":-0.287},{"x":-0.966,"y":-0.374},{"x":-0.929,"y":-0.269},{"x":-1.013,"y":-0.349},{"x":-0.892,"y":-0.341},{"x":-0.959,"y":-0.338},{"x":-0.938,"y":-0.304},{"x":-0.983,"y":-0.358},{"x":-0.921,"y":-0.351},{"x":-0.988,"y":-0.278},{"x":-0.913,"y":-0.276},{"x":-1.021,"y":-0.324},{"x":-0.881,"y":-0.313},{"x":-0.954,"y":-0.388},{"x":-0.961,"y":-0.248},{"x":-0.969,"y":-0.316},{"x":-0.927,"y":-0.322},{"x":-0.979,"y":-0.328},{"x":-0.944,"y":-0.333},{"x":-0.999,"y":-0.364},{"x":-0.903,"y":-0.372},{"x":-1.028,"y":-0.294},{"x":-0.923,"y":-0.254},{"x":-0.957,"y":-0.369},
{"x":-1.008,"y":-0.273},{"x":-0.888,"y":-0.358},{"x":-1.033,"y":-0.332},{"x":-0.871,"y":-0.299},{"x":-0.974,"y":-0.401},{"x":-0.914,"y":-0.236},{"x":-1.017,"y":-0.379},{"x":-0.896,"y":-0.257},{"x":-1.041,"y":-0.282},{"x":-0.862,"y":-0.337},{"x":-0.933,"y":-0.412},{"x":-0.992,"y":-0.232},{"x":-0.879,"y":-0.391},{"x":-0.965,"y":-0.383},{"x":-0.906,"y":-0.291},
{"x":-0.314,"y":-0.323},{"x":-0.331,"y":-0.342},{"x":-0.344,"y":-0.302},{"x":-0.311,"y":-0.289},{"x":-0.292,"y":-0.332},{"x":-0.337,"y":-0.361},{"x":-0.363,"y":-0.312},{"x":-0.301,"y":-0.347},{"x":-0.326,"y":-0.276},{"x":-0.281,"y":-0.318},{"x":-0.307,"y":-0.372},{"x":-0.287,"y":-0.271},{"x":-0.374,"y":-0.336},{"x":-0.269,"y":-0.299},{"x":-0.349,"y":-0.383},{"x":-0.341,"y":-0.262},{"x":-0.338,"y":-0.329},{"x":-0.304,"y":-0.308},{"x":-0.358,"y":-0.353},{"x":-0.351,"y":-0.291},{"x":-0.278,"y":-0.358},{"x":-0.276,"y":-0.283},{"x":-0.324,"y":-0.391},{"x":-0.313,"y":-0.251},{"x":-0.388,"y":-0.324},{"x":-0.248,"y":-0.331},{"x":-0.316,"y":-0.339},{"x":-0.322,"y":-0.297},{"x":-0.328,"y":-0.349},{"x":-0.333,"y":-0.314},{"x":-0.364,"y":-0.369},{"x":-0.372,"y":-0.273},{"x":-0.294,"y":-0.398},{"x":-0.254,"y":-0.293},{"x":-0.369,"y":-0.327},
{"x":-0.273,"y":-0.378},{"x":-0.358,"y":-0.258},{"x":-0.332,"y":-0.403},{"x":-0.299,"y":-0.241},{"x":-0.401,"y":-0.344},{"x":-0.236,"y":-0.284},{"x":-0.379,"y":-0.387},{"x":-0.257,"y":-0.266},{"x":-0.282,"y":-0.411},{"x":-0.337,"y":-0.232},{"x":-0.412,"y":-0.303},{"x":-0.232,"y":-0.362},{"x":-0.391,"y":-0.249},{"x":-0.383,"y":-0.335},{"x":-0.291,"y":-0.276},
{"x":0.323,"y":-0.326},{"x":0.342,"y":-0.309},{"x":0.302,"y":-0.296},{"x":0.289,"y":-0.329},{"x":0.332,"y":-0.348},{"x":0.361,"y":-0.303},{"x":0.312,"y":-0.277},{"x":0.347,"y":-0.339},{"x":0.276,"y":-0.314},{"x":0.318,"y":-0.359},{"x":0.372,"y":-0.333},{"x":0.271,"y":-0.353},{"x":0.336,"y":-0.266},{"x":0.299,"y":-0.371},{"x":0.383,"y":-0.291},{"x":0.262,"y":-0.299},{"x":0.329,"y":-0.302},{"x":0.308,"y":-0.336},{"x":0.353,"y":-0.282},{"x":0.291,"y":-0.289},{"x":0.358,"y":-0.362},{"x":0.283,"y":-0.364},{"x":0.391,"y":-0.316},{"x":0.251,"y":-0.327},{"x":0.324,"y":-0.252},{"x":0.331,"y":-0.392},{"x":0.339,"y":-0.324},{"x":0.297,"y":-0.318},{"x":0.349,"y":-0.312},{"x":0.314,"y":-0.307},{"x":0.369,"y":-0.276},{"x":0.273,"y":-0.268},{"x":0.398,"y":-0.346},{"x":0.293,"y":-0.386},{"x":0.327,"y":-0.271},
{"x":0.378,"y":-0.367},{"x":0.258,"y":-0.282},{"x":0.403,"y":-0.308},{"x":0.241,"y":-0.341},{"x":0.344,"y":-0.239},{"x":0.284,"y":-0.404},{"x":0.387,"y":-0.261},{"x":0.266,"y":-0.383},{"x":0.411,"y":-0.358},{"x":0.232,"y":-0.303},{"x":0.303,"y":-0.228},{"x":0.362,"y":-0.408},{"x":0.249,"y":-0.249},{"x":0.335,"y":-0.257},{"x":0.276,"y":-0.349},
{"x":0.947,"y":-0.326},{"x":0.928,"y":-0.309},{"x":0.968,"y":-0.296},{"x":0.981,"y":-0.329},{"x":0.938,"y":-0.348},{"x":0.909,"y":-0.303},{"x":0.958,"y":-0.277},{"x":0.923,"y":-0.339},{"x":0.994,"y":-0.314},{"x":0.952,"y":-0.359},{"x":0.898,"y":-0.333},{"x":0.999,"y":-0.353},{"x":0.934,"y":-0.266},{"x":0.971,"y":-0.371},{"x":0.887,"y":-0.291},{"x":1.008,"y":-0.299},{"x":0.941,"y":-0.302},{"x":0.962,"y":-0.336},{"x":0.917,"y":-0.282},{"x":0.979,"y":-0.289},{"x":0.912,"y":-0.362},{"x":0.987,"y":-0.364},{"x":0.879,"y":-0.316},{"x":1.019,"y":-0.327},{"x":0.946,"y":-0.252},{"x":0.939,"y":-0.392},{"x":0.931,"y":-0.324},{"x":0.973,"y":-0.318},{"x":0.921,"y":-0.312},{"x":0.956,"y":-0.307},{"x":0.901,"y":-0.276},{"x":0.997,"y":-0.268},{"x":0.872,"y":-0.346},{"x":0.977,"y":-0.386},{"x":0.943,"y":-0.271},
{"x":0.892,"y":-0.367},{"x":1.012,"y":-0.282},{"x":0.867,"y":-0.308},{"x":1.029,"y":-0.341},{"x":0.926,"y":-0.239},{"x":0.986,"y":-0.404},{"x":0.883,"y":-0.261},{"x":1.004,"y":-0.383},{"x":0.859,"y":-0.358},{"x":1.038,"y":-0.303},{"x":0.967,"y":-0.228},{"x":0.908,"y":-0.408},{"x":1.021,"y":-0.249},{"x":0.935,"y":-0.257},{"x":0.994,"y":-0.349},
{"x":-0.947,"y":-0.944},{"x":-0.928,"y":-0.961},{"x":-0.968,"y":-0.974},{"x":-0.981,"y":-0.941},{"x":-0.938,"y":-0.922},{"x":-0.909,"y":-0.967},{"x":-0.958,"y":-0.993},{"x":-0.923,"y":-0.931},{"x":-0.994,"y":-0.956},{"x":-0.952,"y":-0.911},{"x":-0.898,"y":-0.937},{"x":-0.999,"y":-0.917},{"x":-0.934,"y":-1.004},{"x":-0.971,"y":-0.899},{"x":-0.887,"y":-0.979},{"x":-1.008,"y":-0.971},{"x":-0.941,"y":-0.968},{"x":-0.962,"y":-0.934},{"x":-0.917,"y":-0.988},{"x":-0.979,"y":-0.981},{"x":-0.912,"y":-0.908},{"x":-0.987,"y":-0.906},{"x":-0.879,"y":-0.954},{"x":-1.019,"y":-0.943},{"x":-0.946,"y":-1.018},{"x":-0.939,"y":-0.878},{"x":-0.931,"y":-0.946},{"x":-0.973,"y":-0.952},{"x":-0.921,"y":-0.958},{"x":-0.956,"y":-0.963},{"x":-0.901,"y":-0.994},{"x":-0.997,"y":-1.002},{"x":-0.872,"y":-0.924},{"x":-0.977,"y":-0.884},{"x":-0.943,"y":-0.999},
{"x":-0.892,"y":-0.903},{"x":-1.012,"y":-0.988},{"x":-0.867,"y":-0.962},{"x":-1.029,"y":-0.929},{"x":-0.926,"y":-1.031},{"x":-0.986,"y":-0.866},{"x":-0.883,"y":-1.009},{"x":-1.004,"y":-0.887},{"x":-0.859,"y":-0.912},{"x":-1.038,"y":-0.967},{"x":-0.967,"y":-1.042},{"x":-0.908,"y":-0.862},{"x":-1.021,"y":-1.021},{"x":-0.935,"y":-1.013},{"x":-0.994,"y":-0.921},
{"x":-0.326,"y":-0.947},{"x":-0.309,"y":-0.928},{"x":-0.296,"y":-0.968},{"x":-0.329,"y":-0.981},{"x":-0.348,"y":-0.938},{"x":-0.303,"y":-0.909},{"x":-0.277,"y":-0.958},{"x":-0.339,"y":-0.923},{"x":-0.314,"y":-0.994},{"x":-0.359,"y":-0.952},{"x":-0.333,"y":-0.898},{"x":-0.353,"y":-0.999},{"x":-0.266,"y":-0.934},{"x":-0.371,"y":-0.971},{"x":-0.291,"y":-0.887},{"x":-0.299,"y":-1.008},{"x":-0.302,"y":-0.941},{"x":-0.336,"y":-0.962},{"x":-0.282,"y":-0.917},{"x":-0.289,"y":-0.979},{"x":-0.362,"y":-0.912},{"x":-0.364,"y":-0.987},{"x":-0.316,"y":-0.879},{"x":-0.327,"y":-1.019},{"x":-0.252,"y":-0.946},{"x":-0.392,"y":-0.939},{"x":-0.324,"y":-0.931},{"x":-0.318,"y":-0.973},{"x":-0.312,"y":-0.921},{"x":-0.307,"y":-0.956},{"x":-0.276,"y":-0.901},{"x":-0.268,"y":-0.997},{"x":-0.346,"y":-0.872},{"x":-0.386,"y":-0.977},{"x":-0.271,"y":-0.943},
{"x":-0.367,"y":-0.892},{"x":-0.282,"y":-1.012},{"x":-0.308,"y":-0.867},{"x":-0.341,"y":-1.029},{"x":-0.239,"y":-0.926},{"x":-0.404,"y":-0.986},{"x":-0.261,"y":-0.883},{"x":-0.383,"y":-1.004},{"x":-0.358,"y":-0.859},{"x":-0.303,"y":-1.038},{"x":-0.228,"y":-0.967},{"x":-0.408,"y":-0.908},{"x":-0.249,"y":-1.021},{"x":-0.257,"y":-0.935},{"x":-0.349,"y":-0.994},
{"x":0.326,"y":-0.947},{"x":0.309,"y":-0.928},{"x":0.296,"y":-0.968},{"x":0.329,"y":-0.981},{"x":0.348,"y":-0.938},{"x":0.303,"y":-0.909},{"x":0.277,"y":-0.958},{"x":0.339,"y":-0.923},{"x":0.314,"y":-0.994},{"x":0.359,"y":-0.952},{"x":0.333,"y":-0.898},{"x":0.353,"y":-0.999},{"x":0.266,"y":-0.934},{"x":0.371,"y":-0.971},{"x":0.291,"y":-0.887},{"x":0.299,"y":-1.008},{"x":0.302,"y":-0.941},{"x":0.336,"y":-0.962},{"x":0.282,"y":-0.917},{"x":0.289,"y":-0.979},{"x":0.362,"y":-0.912},{"x":0.364,"y":-0.987},{"x":0.316,"y":-0.879},{"x":0.327,"y":-1.019},{"x":0.252,"y":-0.946},{"x":0.392,"y":-0.939},{"x":0.324,"y":-0.931},{"x":0.318,"y":-0.973},{"x":0.312,"y":-0.921},{"x":0.307,"y":-0.956},{"x":0.276,"y":-0.901},{"x":0.268,"y":-0.997},{"x":0.346,"y":-0.872},{"x":0.386,"y":-0.977},{"x":0.271,"y":-0.943},
{"x":0.367,"y":-0.892},{"x":0.282,"y":-1.012},{"x":0.308,"y":-0.867},{"x":0.341,"y":-1.029},{"x":0.239,"y":-0.926},{"x":0.404,"y":-0.986},{"x":0.261,"y":-0.883},{"x":0.383,"y":-1.004},{"x":0.358,"y":-0.859},{"x":0.303,"y":-1.038},{"x":0.228,"y":-0.967},{"x":0.408,"y":-0.908},{"x":0.249,"y":-1.021},{"x":0.257,"y":-0.935},{"x":0.349,"y":-0.994},
{"x":0.947,"y":-0.944},{"x":0.928,"y":-0.961},{"x":0.968,"y":-0.974},{"x":0.981,"y":-0.941},{"x":0.938,"y":-0.922},{"x":0.909,"y":-0.967},{"x":0.958,"y":-0.993},{"x":0.923,"y":-0.931},{"x":0.994,"y":-0.956},{"x":0.952,"y":-0.911},{"x":0.898,"y":-0.937},{"x":0.999,"y":-0.917},{"x":0.934,"y":-1.004},{"x":0.971,"y":-0.899},{"x":0.887,"y":-0.979},{"x":1.008,"y":-0.971},{"x":0.941,"y":-0.968},{"x":0.962,"y":-0.934},{"x":0.917,"y":-0.988},{"x":0.979,"y":-0.981},{"x":0.912,"y":-0.908},{"x":0.987,"y":-0.906},{"x":0.879,"y":-0.954},{"x":1.019,"y":-0.943},{"x":0.946,"y":-1.018},{"x":0.939,"y":-0.878},{"x":0.931,"y":-0.946},{"x":0.973,"y":-0.952},{"x":0.921,"y":-0.958},{"x":0.956,"y":-0.963},{"x":0.901,"y":-0.994},{"x":0.997,"y":-1.002},{"x":0.872,"y":-0.924},{"x":0.977,"y":-0.884},{"x":0.943,"y":-0.999},
{"x":0.892,"y":-0.903},{"x":1.012,"y":-0.988},{"x":0.867,"y":-0.962},{"x":1.029,"y":-0.929},{"x":0.926,"y":-1.031},{"x":0.986,"y":-0.866},{"x":0.883,"y":-1.009},{"x":1.004,"y":-0.887},{"x":0.859,"y":-0.912},{"x":1.038,"y":-0.967},{"x":0.967,"y":-1.042},{"x":0.908,"y":-0.862},{"x":1.021,"y":-1.021},{"x":0.935,"y":-1.013},{"x":0.994,"y":-0.921},
{"x":0.95,"y":0.95},{"x":0.93,"y":0.97},{"x":0.97,"y":0.93},{"x":0.92,"y":0.92},{"x":0.98,"y":0.98},{"x":1.0,"y":0.95},{"x":0.9,"y":0.96},{"x":0.95,"y":0.9},{"x":0.96,"y":1.0},{"x":1.062,"y":0.968}
]
},
"layer": [
{
"data": {"name": "received"},
"mark": {"type": "point", "filled": true, "size": 38, "opacity": 1, "shape": "circle"},
"encoding": {
"x": {"field": "x", "type": "quantitative", "scale": {"domain": [-1.14, 1.14], "nice": false, "zero": false},
 "axis": {"orient": "bottom", "title": "In-Phase", "values": [-1, -0.5, 0, 0.5, 1], "labelExpr": "'' + datum.value", "grid": false, "domain": false, "tickSize": -7, "tickColor": "#262626", "tickWidth": 1.5, "labelPadding": 19, "labelFontSize": 25, "labelFont": "Liberation Sans", "labelColor": "#262626", "titleFontSize": 28, "titleFont": "Liberation Sans", "titleFontWeight": "normal", "titleColor": "#262626", "titlePadding": 17}},
"y": {"field": "y", "type": "quantitative", "scale": {"domain": [-1.155, 1.155], "nice": false, "zero": false},
 "axis": {"orient": "left", "title": "Quadrature", "values": [-1, -0.8, -0.6, -0.4, -0.2, 0, 0.2, 0.4, 0.6, 0.8, 1], "labelExpr": "'' + datum.value", "grid": false, "domain": false, "tickSize": -7, "tickColor": "#262626", "tickWidth": 1.5, "labelPadding": 26, "labelFontSize": 25, "labelFont": "Liberation Sans", "labelColor": "#262626", "titleFontSize": 28, "titleFont": "Liberation Sans", "titleFontWeight": "normal", "titleColor": "#262626", "titlePadding": 6}},
"color": {"datum": "Received Signal", "scale": {"domain": ["Received Signal", "Equalized Signal"], "range": ["#00FFFF", "#0000FF"]},
 "legend": {"orient": "none", "legendX": 360, "legendY": 28, "title": null, "padding": 9, "strokeColor": "#262626", "fillColor": "white", "labelFontSize": 24, "labelFont": "Liberation Sans", "labelColor": "#000000", "labelLimit": 400, "symbolType": "circle", "symbolSize": 30, "symbolOffset": 19, "labelOffset": 23, "rowPadding": 9}}
}
},
{
"data": {"name": "equalized"},
"mark": {"type": "point", "filled": true, "size": 38, "opacity": 1, "shape": "circle"},
"encoding": {
"x": {"field": "x", "type": "quantitative",
 "axis": {"orient": "top", "title": null, "values": [-1, -0.5, 0, 0.5, 1], "labels": false, "grid": false, "domain": false, "tickSize": -7, "tickColor": "#262626", "tickWidth": 1.5}},
"y": {"field": "y", "type": "quantitative"},
"color": {"datum": "Equalized Signal"}
}
}
],
"resolve": {"axis": {"x": "independent"}}
}
